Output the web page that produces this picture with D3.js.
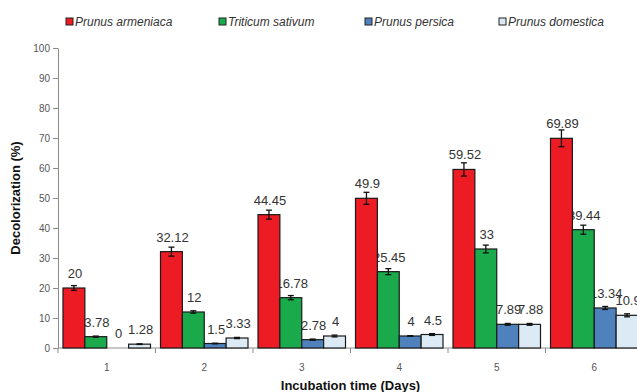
<!DOCTYPE html>
<html>
<head>
<meta charset="utf-8">
<script src="https://cdn.jsdelivr.net/npm/d3@7"></script>
<style>
  html, body { margin: 0; padding: 0; background: #fff; }
  svg { display: block; font-family: "Liberation Sans", Arial, sans-serif; }
</style>
</head>
<body>
<svg id="chart" width="637" height="392"></svg>
<script>
// Incubation days (x categories)
const days = ["1", "2", "3", "4", "5", "6"];
// Series names
const series = ["Prunus armeniaca", "Triticum sativum", "Prunus persica", "Prunus domestica"];
// Decolorization (%) per series, one value per day
const armeniaca = [20, 32.12, 44.45, 49.9, 59.52, 69.89];
const triticum  = [3.78, 12, 16.78, 25.45, 33, 39.44];
const persica   = [0, 1.5, 2.78, 4, 7.89, 13.34];
const domestica = [1.28, 3.33, 4, 4.5, 7.88, 10.9];
// Standard error for each value
const armeniacaErr = [0.8, 1.5, 1.5, 2.0, 2.2, 2.8];
const triticumErr  = [0.2, 0.4, 0.7, 1.0, 1.3, 1.5];
const persicaErr   = [0, 0.1, 0.2, 0.1, 0.3, 0.5];
const domesticaErr = [0.1, 0.2, 0.3, 0.3, 0.3, 0.5];
// Y axis ticks
const yTicks = [0, 10, 20, 30, 40, 50, 60, 70, 80, 90, 100];

const colors = ["#ed1c24", "#1aaa4b", "#4f81bd", "#dbeaf4"];
const values = [armeniaca, triticum, persica, domestica];
const errors = [armeniacaErr, triticumErr, persicaErr, domesticaErr];

const svg = d3.select("#chart");

const plotLeft = 58, plotRight = 643, plotTop = 48, plotBottom = 348;

const x0 = d3.scaleBand().domain(days).range([plotLeft, plotRight]).padding(0);
const x1 = d3.scaleBand().domain(series).range([5, x0.bandwidth() - 5]).padding(0);
const y = d3.scaleLinear().domain([0, 100]).range([plotBottom, plotTop]);

// Y axis
const yAxis = svg.append("g")
  .attr("transform", `translate(${plotLeft},0)`)
  .call(d3.axisLeft(y).tickValues(yTicks).tickSize(5).tickPadding(3).tickSizeOuter(0));
yAxis.select(".domain").attr("stroke", "#8c8c8c");
yAxis.selectAll(".tick line").attr("stroke", "#8c8c8c");
yAxis.selectAll(".tick text").attr("fill", "#555").style("font-size", "10px");

// X axis: ticks sit between the groups
const xAxis = svg.append("g").attr("transform", `translate(0,${plotBottom})`);
xAxis.append("line").attr("x1", plotLeft).attr("x2", plotRight).attr("y1", 0).attr("y2", 0)
  .attr("stroke", "#8c8c8c");
const bounds = d3.range(days.length + 1).map(i => plotLeft + i * x0.step());
xAxis.selectAll("line.tk").data(bounds).join("line").attr("class", "tk")
  .attr("x1", d => d).attr("x2", d => d).attr("y1", 0).attr("y2", 5)
  .attr("stroke", "#8c8c8c");
xAxis.selectAll("text").data(days).join("text")
  .attr("x", d => x0(d) + x0.bandwidth() / 2)
  .attr("y", 23)
  .attr("text-anchor", "middle")
  .attr("fill", "#555")
  .style("font-size", "10px")
  .text(d => d);

// Flatten into one record per bar
const rows = [];
days.forEach((d, i) => series.forEach((s, k) => {
  rows.push({ day: d, s, k, v: values[k][i], e: errors[k][i] });
}));
const bx = r => x0(r.day) + x1(r.s);
const bw = x1.bandwidth();

// Value labels (drawn beneath the bars)
svg.append("g").selectAll("text").data(rows).join("text")
  .attr("x", r => bx(r) + bw / 2 + 1)
  .attr("y", r => y(r.v) - 10)
  .attr("text-anchor", "middle")
  .attr("fill", "#333")
  .style("font-size", "13px")
  .text(r => String(r.v));

// Bars
svg.append("g").selectAll("rect").data(rows).join("rect")
  .attr("x", r => bx(r))
  .attr("y", r => y(r.v))
  .attr("width", bw)
  .attr("height", r => y(0) - y(r.v))
  .attr("fill", r => colors[r.k])
  .attr("stroke", "#1a1a1a")
  .attr("stroke-width", 1.2);

// Error bars
const eg = svg.append("g").attr("stroke", "#111").attr("stroke-width", 1.3);
rows.filter(r => r.e > 0).forEach(r => {
  const cx = bx(r) + bw / 2;
  eg.append("line").attr("x1", cx).attr("x2", cx).attr("y1", y(r.v + r.e)).attr("y2", y(r.v - r.e));
  eg.append("line").attr("x1", cx - 3).attr("x2", cx + 3).attr("y1", y(r.v + r.e)).attr("y2", y(r.v + r.e));
  eg.append("line").attr("x1", cx - 3).attr("x2", cx + 3).attr("y1", y(r.v - r.e)).attr("y2", y(r.v - r.e));
});

// Legend
const legendX = [66, 219, 365, 499];
const lg = svg.append("g").selectAll("g").data(series).join("g")
  .attr("transform", (d, i) => `translate(${legendX[i]},22)`);
lg.append("rect").attr("x", 0).attr("y", -4).attr("width", 7).attr("height", 7)
  .attr("fill", (d, i) => colors[i]).attr("stroke", "#222").attr("stroke-width", 1);
lg.append("text").attr("x", 9).attr("y", 3.5)
  .attr("fill", "#333").style("font-size", "12px").style("font-style", "italic")
  .text(d => d);

// Axis titles
svg.append("text")
  .attr("transform", `translate(20,${(plotTop + plotBottom) / 2}) rotate(-90)`)
  .attr("text-anchor", "middle")
  .style("font-size", "13px").style("font-weight", "bold").attr("fill", "#111")
  .text("Decolorization (%)");
svg.append("text")
  .attr("x", (plotLeft + plotRight) / 2).attr("y", 390)
  .attr("text-anchor", "middle")
  .style("font-size", "13px").style("font-weight", "bold").attr("fill", "#111")
  .text("Incubation time (Days)");
</script>
</body>
</html>
